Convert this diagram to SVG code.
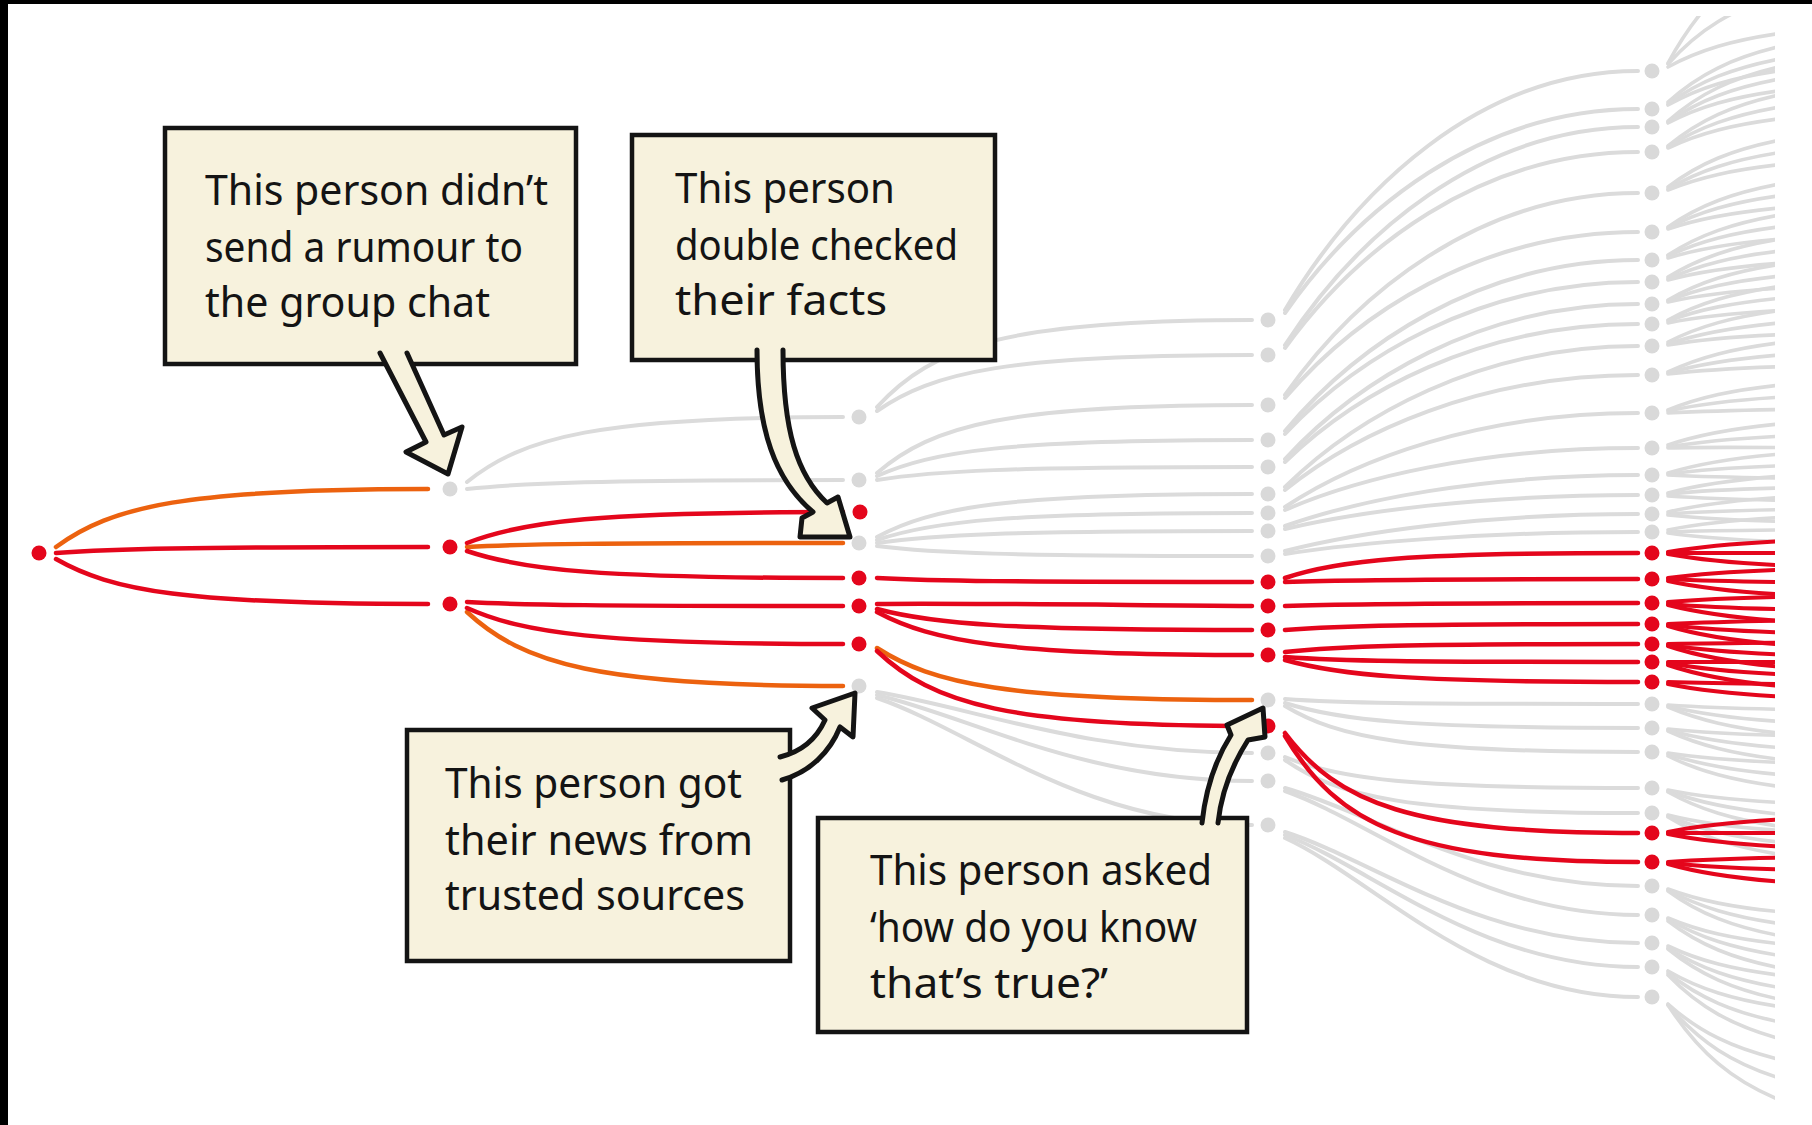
<svg xmlns="http://www.w3.org/2000/svg" width="1812" height="1125" viewBox="0 0 1812 1125">
<style>
#connectors path{fill:none;stroke-linecap:round}
.g{stroke:#dbdbdb;stroke-width:4}
.o{stroke:#ec620f;stroke-width:4.5}
.r{stroke:#e4061c;stroke-width:4.5}
.dr{fill:#e4061c}
.dg{fill:#d9d9d9}
.box rect{fill:#f7f2dd;stroke:#141414;stroke-width:4.5}
.box text{font-family:"Noto Sans","Liberation Sans",sans-serif;font-size:42px;fill:#141414}
.arrow{fill:#f7f2dd;stroke:#141414;stroke-width:5;stroke-linejoin:round;stroke-linecap:round}
</style>
<defs>
<clipPath id="edge"><rect x="0" y="16" width="1775" height="1090"/></clipPath>
</defs>
<rect width="1812" height="1125" fill="#ffffff"/>
<rect x="0" y="0" width="1812" height="4" fill="#000"/>
<rect x="0" y="0" width="8" height="1125" fill="#000"/>
<g id="connectors">
<g class="g">
<path d="M467,482 C523,437 599,417 843,417"/>
<path d="M467,489 C523,483 599,480 843,480"/>
<path d="M877,407 C933,346 1008,320 1252,320"/>
<path d="M877,411 C933,372 1008,355 1252,355"/>
<path d="M877,473 C933,425 1008,405 1252,405"/>
<path d="M877,476 C933,451 1008,440 1252,440"/>
<path d="M877,480 C933,471 1008,467 1252,467"/>
<path d="M877,537 C933,507 1008,494 1252,494"/>
<path d="M877,540 C933,521 1008,513 1252,513"/>
<path d="M877,543 C933,535 1008,531 1252,531"/>
<path d="M877,546 C933,553 1008,556 1252,556"/>
<path d="M877,692 C971,707 1083,753 1252,753"/>
<path d="M877,695 C971,717 1083,781 1252,781"/>
<path d="M877,698 C971,730 1083,825 1252,825"/>
<path d="M1285,310 C1356,190 1479,71 1638,71"/>
<path d="M1285,313 C1356,211 1479,109 1638,109"/>
<path d="M1285,345 C1356,236 1479,127 1638,127"/>
<path d="M1285,348 C1356,250 1479,152 1638,152"/>
<path d="M1285,395 C1356,294 1479,193 1638,193"/>
<path d="M1285,398 C1356,315 1479,232 1638,232"/>
<path d="M1285,431 C1356,346 1479,260 1638,260"/>
<path d="M1285,434 C1356,358 1479,282 1638,282"/>
<path d="M1285,459 C1356,382 1479,304 1638,304"/>
<path d="M1285,462 C1356,393 1479,324 1638,324"/>
<path d="M1285,487 C1356,417 1479,346 1638,346"/>
<path d="M1285,490 C1356,433 1479,375 1638,375"/>
<path d="M1285,507 C1356,460 1479,413 1638,413"/>
<path d="M1285,510 C1356,479 1479,448 1638,448"/>
<path d="M1285,526 C1356,501 1479,475 1638,475"/>
<path d="M1285,529 C1356,512 1479,495 1638,495"/>
<path d="M1285,551 C1356,533 1479,514 1638,514"/>
<path d="M1285,554 C1356,543 1479,532 1638,532"/>
<path d="M1285,699 C1338,703 1409,704 1638,704"/>
<path d="M1285,703 C1338,720 1409,728 1638,728"/>
<path d="M1285,706 C1338,738 1409,752 1638,752"/>
<path d="M1285,757 C1338,779 1409,788 1638,788"/>
<path d="M1285,760 C1338,797 1409,813 1638,813"/>
<path d="M1285,788 C1373,813 1479,886 1638,886"/>
<path d="M1285,791 C1373,822 1479,915 1638,915"/>
<path d="M1285,832 C1373,860 1479,943 1638,943"/>
<path d="M1285,835 C1373,868 1479,967 1638,967"/>
<path d="M1285,838 C1373,878 1479,997 1638,997"/>
</g>
<g class="g" clip-path="url(#edge)" style="stroke-width:3.6">
<path d="M1668,63 C1727,-44 1805,-90 2060,-90"/>
<path d="M1668,64 C1727,-2 1805,-30 2060,-30"/>
<path d="M1668,67 C1727,35 1805,21 2060,21"/>
<path d="M1668,102 C1727,49 1805,26 2060,26"/>
<path d="M1668,104 C1727,61 1805,42 2060,42"/>
<path d="M1668,105 C1727,72 1805,58 2060,58"/>
<path d="M1668,121 C1727,69 1805,47 2060,47"/>
<path d="M1668,122 C1727,81 1805,63 2060,63"/>
<path d="M1668,123 C1727,92 1805,79 2060,79"/>
<path d="M1668,146 C1727,97 1805,76 2060,76"/>
<path d="M1668,147 C1727,109 1805,92 2060,92"/>
<path d="M1668,148 C1727,120 1805,108 2060,108"/>
<path d="M1668,187 C1727,142 1805,123 2060,123"/>
<path d="M1668,189 C1727,154 1805,139 2060,139"/>
<path d="M1668,190 C1727,166 1805,155 2060,155"/>
<path d="M1668,227 C1727,186 1805,168 2060,168"/>
<path d="M1668,228 C1727,197 1805,184 2060,184"/>
<path d="M1668,229 C1727,209 1805,200 2060,200"/>
<path d="M1668,255 C1727,217 1805,200 2060,200"/>
<path d="M1668,256 C1727,228 1805,216 2060,216"/>
<path d="M1668,258 C1727,240 1805,232 2060,232"/>
<path d="M1668,277 C1727,241 1805,225 2060,225"/>
<path d="M1668,279 C1727,252 1805,241 2060,241"/>
<path d="M1668,280 C1727,264 1805,257 2060,257"/>
<path d="M1668,300 C1727,266 1805,251 2060,251"/>
<path d="M1668,301 C1727,277 1805,267 2060,267"/>
<path d="M1668,302 C1727,289 1805,283 2060,283"/>
<path d="M1668,320 C1727,288 1805,274 2060,274"/>
<path d="M1668,321 C1727,299 1805,290 2060,290"/>
<path d="M1668,323 C1727,311 1805,306 2060,306"/>
<path d="M1668,342 C1727,312 1805,299 2060,299"/>
<path d="M1668,344 C1727,324 1805,315 2060,315"/>
<path d="M1668,345 C1727,335 1805,331 2060,331"/>
<path d="M1668,372 C1727,344 1805,332 2060,332"/>
<path d="M1668,373 C1727,356 1805,348 2060,348"/>
<path d="M1668,374 C1727,367 1805,364 2060,364"/>
<path d="M1668,410 C1727,386 1805,376 2060,376"/>
<path d="M1668,411 C1727,398 1805,392 2060,392"/>
<path d="M1668,413 C1727,410 1805,408 2060,408"/>
<path d="M1668,445 C1727,425 1805,416 2060,416"/>
<path d="M1668,447 C1727,437 1805,432 2060,432"/>
<path d="M1668,448 C1727,446 1805,449 2060,448"/>
<path d="M1668,473 C1727,455 1805,447 2060,447"/>
<path d="M1668,474 C1727,466 1805,463 2060,463"/>
<path d="M1668,475 C1727,478 1805,479 2060,479"/>
<path d="M1668,493 C1727,477 1805,470 2060,470"/>
<path d="M1668,494 C1727,488 1805,486 2060,486"/>
<path d="M1668,496 C1727,500 1805,502 2060,502"/>
<path d="M1668,512 C1727,498 1805,492 2060,492"/>
<path d="M1668,514 C1727,510 1805,508 2060,508"/>
<path d="M1668,515 C1727,521 1805,524 2060,524"/>
<path d="M1668,530 C1727,518 1805,513 2060,513"/>
<path d="M1668,532 C1727,530 1805,529 2060,529"/>
<path d="M1668,533 C1727,541 1805,545 2060,545"/>
<path d="M1668,705 C1727,709 1805,711 2060,711"/>
<path d="M1668,706 C1727,721 1805,727 2060,727"/>
<path d="M1668,707 C1727,732 1805,743 2060,743"/>
<path d="M1668,729 C1727,735 1805,738 2060,738"/>
<path d="M1668,730 C1727,747 1805,754 2060,754"/>
<path d="M1668,731 C1727,758 1805,770 2060,770"/>
<path d="M1668,753 C1727,762 1805,766 2060,766"/>
<path d="M1668,754 C1727,774 1805,782 2060,782"/>
<path d="M1668,756 C1727,785 1805,798 2060,798"/>
<path d="M1668,790 C1727,802 1805,807 2060,807"/>
<path d="M1668,791 C1727,813 1805,823 2060,823"/>
<path d="M1668,792 C1727,825 1805,839 2060,839"/>
<path d="M1668,815 C1727,830 1805,836 2060,836"/>
<path d="M1668,816 C1727,841 1805,852 2060,852"/>
<path d="M1668,817 C1727,853 1805,868 2060,868"/>
<path d="M1668,889 C1727,911 1805,920 2060,920"/>
<path d="M1668,890 C1727,922 1805,936 2060,936"/>
<path d="M1668,891 C1727,934 1805,952 2060,952"/>
<path d="M1668,918 C1727,943 1805,953 2060,953"/>
<path d="M1668,919 C1727,954 1805,969 2060,969"/>
<path d="M1668,921 C1727,966 1805,985 2060,985"/>
<path d="M1668,946 C1727,974 1805,986 2060,986"/>
<path d="M1668,948 C1727,986 1805,1002 2060,1002"/>
<path d="M1668,949 C1727,997 1805,1018 2060,1018"/>
<path d="M1668,971 C1727,1005 1805,1020 2060,1020"/>
<path d="M1668,973 C1727,1020 1805,1040 2060,1040"/>
<path d="M1668,975 C1727,1036 1805,1062 2060,1062"/>
<path d="M1668,1004 C1727,1057 1805,1080 2060,1080"/>
<path d="M1668,1005 C1727,1075 1805,1105 2060,1105"/>
<path d="M1668,1005 C1727,1096 1805,1135 2060,1135"/>
</g>
<g class="o">
<path d="M56,547 C112,506 186,489 428,489"/>
<path d="M467,547 C523,544 599,543 843,543"/>
<path d="M467,612 C523,664 599,686 843,686"/>
<path d="M877,648 C933,684 1008,700 1252,700"/>
</g>
<g class="r">
<path d="M56,553 C112,549 186,547 428,547"/>
<path d="M56,559 C112,591 186,604 428,604"/>
<path d="M467,543 C523,521 599,512 843,512"/>
<path d="M467,551 C523,570 599,578 843,578"/>
<path d="M467,602 C523,605 599,606 843,606"/>
<path d="M467,608 C523,633 599,644 843,644"/>
<path d="M877,578 C933,581 1008,582 1252,582"/>
<path d="M877,604 C933,603 1008,604 1252,606"/>
<path d="M877,609 C933,624 1008,630 1252,630"/>
<path d="M877,612 C933,642 1008,655 1252,655"/>
<path d="M877,651 C933,704 1008,726 1252,726"/>
<path d="M1285,578 C1338,560 1409,553 1638,553"/>
<path d="M1285,582 C1338,580 1409,579 1638,579"/>
<path d="M1285,606 C1338,604 1409,603 1638,603"/>
<path d="M1285,630 C1338,626 1409,624 1638,624"/>
<path d="M1285,652 C1338,646 1409,644 1638,644"/>
<path d="M1285,657 C1338,661 1409,662 1638,662"/>
<path d="M1285,660 C1338,675 1409,682 1638,682"/>
<path d="M1285,733 C1338,803 1409,833 1638,833"/>
<path d="M1285,736 C1338,824 1409,862 1638,862"/>
</g>
<g class="r" clip-path="url(#edge)" style="stroke-width:4">
<path d="M1668,552 C1727,542 1805,537 2060,537"/>
<path d="M1668,553 C1727,552 1805,554 2060,553"/>
<path d="M1668,554 C1727,565 1805,569 2060,569"/>
<path d="M1668,578 C1727,570 1805,567 2060,567"/>
<path d="M1668,579 C1727,582 1805,583 2060,583"/>
<path d="M1668,581 C1727,594 1805,599 2060,599"/>
<path d="M1668,602 C1727,597 1805,595 2060,595"/>
<path d="M1668,604 C1727,609 1805,611 2060,611"/>
<path d="M1668,605 C1727,620 1805,627 2060,627"/>
<path d="M1668,624 C1727,621 1805,619 2060,619"/>
<path d="M1668,625 C1727,632 1805,635 2060,635"/>
<path d="M1668,626 C1727,644 1805,651 2060,651"/>
<path d="M1668,644 C1727,643 1805,642 2060,642"/>
<path d="M1668,645 C1727,654 1805,658 2060,658"/>
<path d="M1668,646 C1727,666 1805,674 2060,674"/>
<path d="M1668,662 C1727,661 1805,663 2060,662"/>
<path d="M1668,663 C1727,674 1805,678 2060,678"/>
<path d="M1668,665 C1727,685 1805,694 2060,694"/>
<path d="M1668,682 C1727,684 1805,685 2060,685"/>
<path d="M1668,684 C1727,696 1805,701 2060,701"/>
<path d="M1668,832 C1727,820 1805,815 2060,815"/>
<path d="M1668,833 C1727,832 1805,834 2060,833"/>
<path d="M1668,834 C1727,846 1805,851 2060,851"/>
<path d="M1668,862 C1727,858 1805,856 2060,856"/>
<path d="M1668,863 C1727,869 1805,872 2060,872"/>
<path d="M1668,864 C1727,881 1805,888 2060,888"/>
</g>
</g>
<g id="nodes">
<g id="n0-1"><circle class="dr" cx="39" cy="553" r="7.5"/></g>
<g id="n1-1"><circle class="dg" cx="450" cy="489" r="7.5"/></g>
<g id="n1-2"><circle class="dr" cx="450" cy="547" r="7.5"/></g>
<g id="n1-3"><circle class="dr" cx="450" cy="604" r="7.5"/></g>
<g id="n2-1"><circle class="dg" cx="859" cy="417" r="7.5"/></g>
<g id="n2-2"><circle class="dg" cx="859" cy="480" r="7.5"/></g>
<g id="n2-3"><circle class="dr" cx="860" cy="512" r="7.5"/></g>
<g id="n2-4"><circle class="dg" cx="859" cy="543" r="7.5"/></g>
<g id="n2-5"><circle class="dr" cx="859" cy="578" r="7.5"/></g>
<g id="n2-6"><circle class="dr" cx="859" cy="606" r="7.5"/></g>
<g id="n2-7"><circle class="dr" cx="859" cy="644" r="7.5"/></g>
<g id="n2-8"><circle class="dg" cx="859" cy="686" r="7.5"/></g>
<g id="n3-1"><circle class="dg" cx="1268" cy="320" r="7.5"/></g>
<g id="n3-2"><circle class="dg" cx="1268" cy="355" r="7.5"/></g>
<g id="n3-3"><circle class="dg" cx="1268" cy="405" r="7.5"/></g>
<g id="n3-4"><circle class="dg" cx="1268" cy="440" r="7.5"/></g>
<g id="n3-5"><circle class="dg" cx="1268" cy="467" r="7.5"/></g>
<g id="n3-6"><circle class="dg" cx="1268" cy="494" r="7.5"/></g>
<g id="n3-7"><circle class="dg" cx="1268" cy="513" r="7.5"/></g>
<g id="n3-8"><circle class="dg" cx="1268" cy="531" r="7.5"/></g>
<g id="n3-9"><circle class="dg" cx="1268" cy="556" r="7.5"/></g>
<g id="n3-10"><circle class="dr" cx="1268" cy="582" r="7.5"/></g>
<g id="n3-11"><circle class="dr" cx="1268" cy="606" r="7.5"/></g>
<g id="n3-12"><circle class="dr" cx="1268" cy="630" r="7.5"/></g>
<g id="n3-13"><circle class="dr" cx="1268" cy="655" r="7.5"/></g>
<g id="n3-14"><circle class="dg" cx="1268" cy="700" r="7.5"/></g>
<g id="n3-15"><circle class="dr" cx="1268" cy="726" r="7.5"/></g>
<g id="n3-16"><circle class="dg" cx="1268" cy="753" r="7.5"/></g>
<g id="n3-17"><circle class="dg" cx="1268" cy="781" r="7.5"/></g>
<g id="n3-18"><circle class="dg" cx="1268" cy="825" r="7.5"/></g>
<g id="n4-1"><circle class="dg" cx="1652" cy="71" r="7.5"/></g>
<g id="n4-2"><circle class="dg" cx="1652" cy="109" r="7.5"/></g>
<g id="n4-3"><circle class="dg" cx="1652" cy="127" r="7.5"/></g>
<g id="n4-4"><circle class="dg" cx="1652" cy="152" r="7.5"/></g>
<g id="n4-5"><circle class="dg" cx="1652" cy="193" r="7.5"/></g>
<g id="n4-6"><circle class="dg" cx="1652" cy="232" r="7.5"/></g>
<g id="n4-7"><circle class="dg" cx="1652" cy="260" r="7.5"/></g>
<g id="n4-8"><circle class="dg" cx="1652" cy="282" r="7.5"/></g>
<g id="n4-9"><circle class="dg" cx="1652" cy="304" r="7.5"/></g>
<g id="n4-10"><circle class="dg" cx="1652" cy="324" r="7.5"/></g>
<g id="n4-11"><circle class="dg" cx="1652" cy="346" r="7.5"/></g>
<g id="n4-12"><circle class="dg" cx="1652" cy="375" r="7.5"/></g>
<g id="n4-13"><circle class="dg" cx="1652" cy="413" r="7.5"/></g>
<g id="n4-14"><circle class="dg" cx="1652" cy="448" r="7.5"/></g>
<g id="n4-15"><circle class="dg" cx="1652" cy="475" r="7.5"/></g>
<g id="n4-16"><circle class="dg" cx="1652" cy="495" r="7.5"/></g>
<g id="n4-17"><circle class="dg" cx="1652" cy="514" r="7.5"/></g>
<g id="n4-18"><circle class="dg" cx="1652" cy="532" r="7.5"/></g>
<g id="n4-19"><circle class="dr" cx="1652" cy="553" r="7.5"/></g>
<g id="n4-20"><circle class="dr" cx="1652" cy="579" r="7.5"/></g>
<g id="n4-21"><circle class="dr" cx="1652" cy="603" r="7.5"/></g>
<g id="n4-22"><circle class="dr" cx="1652" cy="624" r="7.5"/></g>
<g id="n4-23"><circle class="dr" cx="1652" cy="644" r="7.5"/></g>
<g id="n4-24"><circle class="dr" cx="1652" cy="662" r="7.5"/></g>
<g id="n4-25"><circle class="dr" cx="1652" cy="682" r="7.5"/></g>
<g id="n4-26"><circle class="dg" cx="1652" cy="704" r="7.5"/></g>
<g id="n4-27"><circle class="dg" cx="1652" cy="728" r="7.5"/></g>
<g id="n4-28"><circle class="dg" cx="1652" cy="752" r="7.5"/></g>
<g id="n4-29"><circle class="dg" cx="1652" cy="788" r="7.5"/></g>
<g id="n4-30"><circle class="dg" cx="1652" cy="813" r="7.5"/></g>
<g id="n4-31"><circle class="dr" cx="1652" cy="833" r="7.5"/></g>
<g id="n4-32"><circle class="dr" cx="1652" cy="862" r="7.5"/></g>
<g id="n4-33"><circle class="dg" cx="1652" cy="886" r="7.5"/></g>
<g id="n4-34"><circle class="dg" cx="1652" cy="915" r="7.5"/></g>
<g id="n4-35"><circle class="dg" cx="1652" cy="943" r="7.5"/></g>
<g id="n4-36"><circle class="dg" cx="1652" cy="967" r="7.5"/></g>
<g id="n4-37"><circle class="dg" cx="1652" cy="997" r="7.5"/></g>
</g>
<g id="callout-rumour" class="box">
<rect x="165" y="128" width="411" height="236"/>
<text x="205" y="205" textLength="343" lengthAdjust="spacingAndGlyphs">This person didn’t</text>
<text x="205" y="262" textLength="318" lengthAdjust="spacingAndGlyphs">send a rumour to</text>
<text x="205" y="317" textLength="285" lengthAdjust="spacingAndGlyphs">the group chat</text>
<path class="arrow" d="M380,353 L426,442 L406,452 L448,474 L462,427 L444,435 L407,353"/>
</g>
<g id="callout-facts" class="box">
<rect x="632" y="135" width="363" height="225"/>
<text x="675" y="203" textLength="220" lengthAdjust="spacingAndGlyphs">This person</text>
<text x="675" y="260" textLength="283" lengthAdjust="spacingAndGlyphs">double checked</text>
<text x="675" y="315" textLength="212" lengthAdjust="spacingAndGlyphs">their facts</text>
<path class="arrow" d="M757,350 C757,430 775,480 813,512 L802,518 L800,537 L850,537 L838,497 L827,503 C797,475 783,430 783,350"/>
</g>
<g id="callout-sources" class="box">
<rect x="407" y="730" width="383" height="231"/>
<text x="445" y="798" textLength="297" lengthAdjust="spacingAndGlyphs">This person got</text>
<text x="445" y="855" textLength="308" lengthAdjust="spacingAndGlyphs">their news from</text>
<text x="445" y="910" textLength="300" lengthAdjust="spacingAndGlyphs">trusted sources</text>
<path class="arrow" d="M780,757 C800,752 816,740 825,720 L812,708 L855,693 L853,737 L840,727 C830,752 810,772 782,780"/>
</g>
<g id="callout-asked" class="box">
<rect x="818" y="818" width="429" height="214"/>
<text x="870" y="885" textLength="342" lengthAdjust="spacingAndGlyphs">This person asked</text>
<text x="870" y="942" textLength="327" lengthAdjust="spacingAndGlyphs">‘how do you know</text>
<text x="870" y="998" textLength="238" lengthAdjust="spacingAndGlyphs">that’s true?’</text>
<path class="arrow" d="M1202,823 C1205,795 1212,765 1231,735 L1227,725 L1263,708 L1265,737 L1248,740 C1232,765 1221,795 1218,823"/>
</g>
</svg>
